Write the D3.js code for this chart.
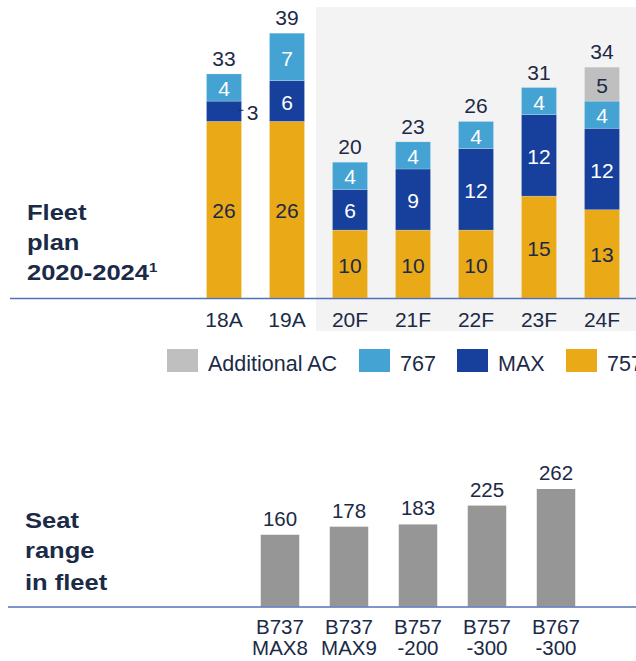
<!DOCTYPE html>
<html>
<head>
<meta charset="utf-8">
<script src="https://cdn.jsdelivr.net/npm/d3@7"></script>
<style>
  body { margin: 0; background: #fff; }
  text { font-family: "Liberation Sans", Arial, sans-serif; }
</style>
</head>
<body>
<div id="chart"></div>
<script>
let w = 636,
    h = 661;

// fleet plan data
let years = ["18A", "19A", "20F", "21F", "22F", "23F", "24F"];
let b757 = [26, 26, 10, 10, 10, 15, 13];
let max = [3, 6, 6, 9, 12, 12, 12];
let b767 = [4, 7, 4, 4, 4, 4, 4];
let additional = [0, 0, 0, 0, 0, 0, 5];

let seriesKeys = ["757", "MAX", "767", "Additional AC"];
let legendKeys = ["Additional AC", "767", "MAX", "757"];

// seat range data
let aircraft = [["B737", "MAX8"], ["B737", "MAX9"], ["B757", "-200"], ["B757", "-300"], ["B767", "-300"]];
let seats = [160, 178, 183, 225, 262];

let colors = {
  "757": "#EAA916",
  "MAX": "#16409B",
  "767": "#45A3D3",
  "Additional AC": "#BFBFBF"
};
let labelColors = {
  "757": "#1B2A47",
  "MAX": "#ffffff",
  "767": "#ffffff",
  "Additional AC": "#1B2A47"
};
let textColor = "#1B2A47";
let lineColor = "#5272B7";

let svg = d3.select("#chart")
            .append("svg")
            .attr("width", w)
            .attr("height", h);

// shaded forecast area
svg.append("rect")
   .attr("x", 316)
   .attr("y", 7)
   .attr("width", w - 316)
   .attr("height", 324)
   .attr("fill", "#F3F3F3");

// ---------- top chart ----------
let rows = years.map((y, i) => ({
  year: y,
  "757": b757[i],
  "MAX": max[i],
  "767": b767[i],
  "Additional AC": additional[i]
}));

let stacked = d3.stack().keys(seriesKeys)(rows);

let x = d3.scaleBand()
          .domain(years)
          .range([192.5, 633.5])
          .paddingInner(0.444)
          .paddingOuter(0.222);

let y = d3.scaleLinear()
          .domain([0, 39])
          .range([298, 33.2]);

let layers = svg.selectAll(".layer")
                .data(stacked)
                .enter()
                .append("g")
                .attr("class", "layer");

layers.selectAll("rect")
      .data(d => d.map(p => ({ key: d.key, p: p })))
      .enter()
      .filter(d => d.p[1] - d.p[0] > 0)
      .append("rect")
      .attr("x", d => x(d.p.data.year))
      .attr("y", d => y(d.p[1]))
      .attr("width", x.bandwidth())
      .attr("height", d => y(d.p[0]) - y(d.p[1]))
      .attr("fill", d => colors[d.key])
      .attr("stroke", "#ffffff")
      .attr("stroke-opacity", 0.35)
      .attr("stroke-width", 0.6);

// segment labels
layers.selectAll("text")
      .data(d => d.map(p => ({ key: d.key, p: p })))
      .enter()
      .filter(d => d.p[1] - d.p[0] > 0)
      .append("text")
      .attr("x", d => {
        let v = d.p[1] - d.p[0];
        // small segment gets its label outside
        if (v < 4) return x(d.p.data.year) + x.bandwidth() + 11;
        return x(d.p.data.year) + x.bandwidth() / 2;
      })
      .attr("y", d => (y(d.p[0]) + y(d.p[1])) / 2 + 1)
      .attr("dy", "0.36em")
      .attr("text-anchor", "middle")
      .attr("font-size", "21px")
      .attr("fill", d => (d.p[1] - d.p[0] < 4) ? textColor : labelColors[d.key])
      .text(d => d.p[1] - d.p[0]);

// leader for outside label
stacked[1].forEach(p => {
  if (p[1] - p[0] < 4) {
    let yy = (y(p[0]) + y(p[1])) / 2 - 1;
    svg.append("line")
       .attr("x1", x(p.data.year) + x.bandwidth() - 3)
       .attr("x2", x(p.data.year) + x.bandwidth() + 2)
       .attr("y1", yy)
       .attr("y2", yy)
       .attr("stroke", textColor)
       .attr("stroke-width", 1);
  }
});

// totals
svg.selectAll(".total")
   .data(rows)
   .enter()
   .append("text")
   .attr("class", "total")
   .attr("x", d => x(d.year) + x.bandwidth() / 2)
   .attr("y", d => y(d["757"] + d["MAX"] + d["767"] + d["Additional AC"]) - 8)
   .attr("text-anchor", "middle")
   .attr("font-size", "21px")
   .attr("fill", textColor)
   .text(d => d["757"] + d["MAX"] + d["767"] + d["Additional AC"]);

// baseline
svg.append("line")
   .attr("x1", 10)
   .attr("x2", w)
   .attr("y1", 298.5)
   .attr("y2", 298.5)
   .attr("stroke", lineColor)
   .attr("stroke-width", 1.5);

// x axis labels
svg.selectAll(".year")
   .data(years)
   .enter()
   .append("text")
   .attr("x", d => x(d) + x.bandwidth() / 2)
   .attr("y", 327)
   .attr("text-anchor", "middle")
   .attr("font-size", "21px")
   .attr("fill", textColor)
   .text(d => d);

// legend
let legendX = [167, 359, 457, 566];
let legend = svg.selectAll(".legend")
                .data(legendKeys)
                .enter()
                .append("g")
                .attr("transform", (d, i) => "translate(" + legendX[i] + ",349)");

legend.append("rect")
      .attr("width", 31)
      .attr("height", 23)
      .attr("fill", d => colors[d]);

legend.append("text")
      .attr("x", 41)
      .attr("y", 22)
      .attr("font-size", "21.5px")
      .attr("fill", textColor)
      .text(d => d);

// title (the source font is wider than Arial, so stretch it a bit)
let title = svg.append("text")
               .attr("transform", "translate(27,0) scale(1.16,1)")
               .attr("font-size", "22px")
               .attr("font-weight", "bold")
               .attr("fill", textColor);
title.append("tspan").attr("x", 0).attr("y", 220.5).text("Fleet");
title.append("tspan").attr("x", 0).attr("y", 250).text("plan");
title.append("tspan").attr("x", 0).attr("y", 280).text("2020-2024");
title.append("tspan").attr("dy", -8).attr("font-size", "13px").text("1");

// ---------- bottom chart ----------
let x2 = d3.scaleBand()
           .domain(d3.range(aircraft.length))
           .range([245.5, 590.5])
           .paddingInner(0.442)
           .paddingOuter(0.221);

let y2 = d3.scaleLinear()
           .domain([0, 262])
           .range([606.5, 489]);

svg.selectAll(".seat")
   .data(seats)
   .enter()
   .append("rect")
   .attr("class", "seat")
   .attr("x", (d, i) => x2(i))
   .attr("y", d => y2(d))
   .attr("width", x2.bandwidth())
   .attr("height", d => y2(0) - y2(d))
   .attr("fill", "#969696");

svg.selectAll(".seatLabel")
   .data(seats)
   .enter()
   .append("text")
   .attr("x", (d, i) => x2(i) + x2.bandwidth() / 2)
   .attr("y", d => y2(d) - 9)
   .attr("text-anchor", "middle")
   .attr("font-size", "20.5px")
   .attr("fill", textColor)
   .text(d => d);

svg.append("line")
   .attr("x1", 8)
   .attr("x2", w)
   .attr("y1", 607)
   .attr("y2", 607)
   .attr("stroke", lineColor)
   .attr("stroke-width", 1.5);

let acLabels = svg.selectAll(".ac")
                  .data(aircraft)
                  .enter()
                  .append("text")
                  .attr("text-anchor", "middle")
                  .attr("font-size", "20.5px")
                  .attr("fill", textColor);
acLabels.append("tspan")
        .attr("x", (d, i) => x2(i) + x2.bandwidth() / 2)
        .attr("y", 634)
        .text(d => d[0]);
acLabels.append("tspan")
        .attr("x", (d, i) => x2(i) + x2.bandwidth() / 2)
        .attr("y", 655)
        .text(d => d[1]);

let title2 = svg.append("text")
                .attr("transform", "translate(25,0) scale(1.16,1)")
                .attr("font-size", "22px")
                .attr("font-weight", "bold")
                .attr("fill", textColor);
title2.append("tspan").attr("x", 0).attr("y", 528).text("Seat");
title2.append("tspan").attr("x", 0).attr("y", 558).text("range");
title2.append("tspan").attr("x", 0).attr("y", 590).text("in fleet");
</script>
</body>
</html>
